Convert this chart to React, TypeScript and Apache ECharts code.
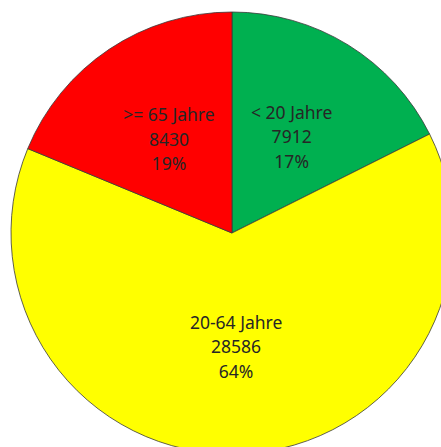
import React, { useEffect, useRef } from "react";
import * as echarts from "echarts";

const categories = ["< 20 Jahre", "20-64 Jahre", ">= 65 Jahre"];
const values = [7912, 28586, 8430];
const percentLabels = ["17%", "64%", "19%"];
const colors = ["#00B050", "#FFFF00", "#FF0000"];

export default function App() {
  const ref = useRef<HTMLDivElement>(null);
  useEffect(() => {
    if (!ref.current) return;
    const chart = echarts.init(ref.current, undefined, { renderer: "svg" });
    chart.setOption({
      animation: false,
      series: [
        {
          type: "pie",
          center: [232, 233],
          radius: [0, 221],
          startAngle: 90,
          clockwise: true,
          avoidLabelOverlap: false,
          data: categories.map((c, i) => ({
            name: c,
            value: values[i],
            itemStyle: { color: colors[i] },
          })),
          itemStyle: { borderColor: "#3a3a3a", borderWidth: 0.8 },
          label: {
            show: true,
            position: "inside",
            formatter: (p: any) => `${p.name}\n${p.value}\n${percentLabels[p.dataIndex]}`,
            color: "#262626",
            fontFamily: "Noto Sans",
            fontSize: 17.5,
            lineHeight: 24.5,
            align: "center",
          },
          labelLine: { show: false },
          emphasis: { disabled: true },
        },
      ],
    });
    return () => chart.dispose();
  }, []);
  return (
    <div
      ref={ref}
      style={{ position: "absolute", left: 0, top: 0, width: 441, height: 447, background: "#fff" }}
    />
  );
}
